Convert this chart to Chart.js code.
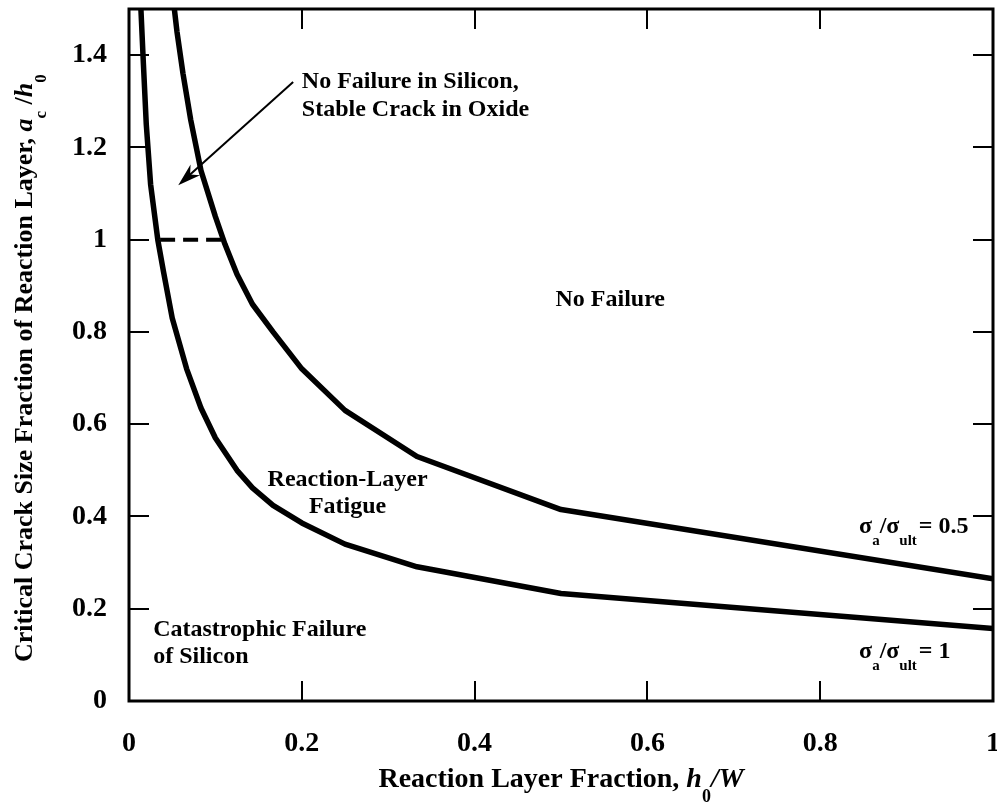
<!DOCTYPE html>
<html>
<head>
<meta charset="utf-8">
<script src="https://cdn.jsdelivr.net/npm/chart.js@4.4.0/dist/chart.umd.min.js"></script>
<style>
  html, body { margin: 0; padding: 0; background: #fff; }
  canvas { display: block; }
</style>
</head>
<body>
<canvas id="chart" width="997" height="812"></canvas>
<script>
// sigma_a / sigma_ult = 1
const lowX = [1, 0.5, 0.3333, 0.25, 0.2, 0.1667, 0.1429, 0.125, 0.1, 0.0833, 0.0667, 0.05, 0.04, 0.0333, 0.025, 0.02, 0.0167, 0.0133];
const lowY = [0.157, 0.233, 0.291, 0.340, 0.386, 0.424, 0.462, 0.50, 0.57, 0.635, 0.72, 0.83, 0.93, 1.00, 1.12, 1.25, 1.38, 1.52];

// sigma_a / sigma_ult = 0.5
const highX = [1, 0.5, 0.3333, 0.25, 0.2, 0.1667, 0.1429, 0.125, 0.1111, 0.1, 0.0833, 0.0714, 0.0625, 0.0556, 0.05];
const highY = [0.265, 0.415, 0.53, 0.63, 0.72, 0.80, 0.86, 0.925, 0.99, 1.05, 1.15, 1.26, 1.36, 1.45, 1.54];

// dashed boundary between the two curves at a_c/h_0 = 1
const dashX = [0.036, 0.107];
const dashY = [1, 1];

const xTicks = [0, 0.2, 0.4, 0.6, 0.8, 1];
const xTickLabels = ['0', '0.2', '0.4', '0.6', '0.8', '1'];
const yTicks = [0, 0.2, 0.4, 0.6, 0.8, 1, 1.2, 1.4];
const yTickLabels = ['0', '0.2', '0.4', '0.6', '0.8', '1', '1.2', '1.4'];

const SERIF = '"Liberation Serif", "Times New Roman", serif';

function toPoints(xs, ys) {
    return xs.map((x, i) => ({ x: x, y: ys[i] }));
}

// bold serif text with italic / subscript pieces
function fontOf(p, size) {
    const s = p.sub ? Math.round(size * 0.64) : size;
    return (p.it ? 'italic ' : '') + 'bold ' + s + 'px ' + SERIF;
}
function richWidth(ctx, parts, size) {
    let w = 0;
    parts.forEach(p => { ctx.font = fontOf(p, size); w += ctx.measureText(p.t).width; });
    return w;
}
function drawRich(ctx, parts, x, y, size, align) {
    let cx = align === 'center' ? x - richWidth(ctx, parts, size) / 2 : x;
    ctx.textAlign = 'left';
    ctx.textBaseline = 'alphabetic';
    parts.forEach(p => {
        ctx.font = fontOf(p, size);
        ctx.fillText(p.t, cx, p.sub ? y + size * 0.52 : y);
        cx += ctx.measureText(p.t).width;
    });
}

// region labels, positioned in data units
const notes = [
    { x: 0.2, y: 1.329, align: 'left', parts: [{ t: 'No Failure in Silicon,' }] },
    { x: 0.2, y: 1.268, align: 'left', parts: [{ t: 'Stable Crack in Oxide' }] },
    { x: 0.557, y: 0.856, align: 'center', parts: [{ t: 'No Failure' }] },
    { x: 0.253, y: 0.465, align: 'center', parts: [{ t: 'Reaction-Layer' }] },
    { x: 0.253, y: 0.408, align: 'center', parts: [{ t: 'Fatigue' }] },
    { x: 0.028, y: 0.14, align: 'left', parts: [{ t: 'Catastrophic Failure' }] },
    { x: 0.028, y: 0.083, align: 'left', parts: [{ t: 'of Silicon' }] },
    { x: 0.845, y: 0.365, align: 'left', parts: [{ t: 'σ' }, { t: 'a', sub: true }, { t: '/σ' }, { t: 'ult', sub: true }, { t: '\u200A= 0.5' }] },
    { x: 0.845, y: 0.094, align: 'left', parts: [{ t: 'σ' }, { t: 'a', sub: true }, { t: '/σ' }, { t: 'ult', sub: true }, { t: '\u200A= 1' }] }
];

// arrow pointing into the narrow region
const arrowFrom = { x: 0.19, y: 1.342 };
const arrowTo = { x: 0.057, y: 1.118 };

const xTitle = [{ t: 'Reaction Layer Fraction, ' }, { t: 'h', it: true }, { t: '0', sub: true }, { t: '/W', it: true }];
const yTitle = [{ t: 'Critical Crack Size Fraction of Reaction Layer, ' }, { t: 'a', it: true }, { t: 'c', sub: true }, { t: ' /' }, { t: 'h', it: true }, { t: '0', sub: true }];

const framePlugin = {
    id: 'frame',
    afterDatasetsDraw(chart) {
        const ctx = chart.ctx;
        const a = chart.chartArea;
        const xs = chart.scales.x;
        const ys = chart.scales.y;
        ctx.save();
        ctx.strokeStyle = '#000';
        ctx.fillStyle = '#000';

        // inward ticks on all four sides
        ctx.lineWidth = 2;
        ctx.beginPath();
        xTicks.forEach(v => {
            const px = Math.round(xs.getPixelForValue(v));
            ctx.moveTo(px, a.bottom); ctx.lineTo(px, a.bottom - 20);
            ctx.moveTo(px, a.top); ctx.lineTo(px, a.top + 20);
        });
        yTicks.forEach(v => {
            const py = Math.round(ys.getPixelForValue(v));
            ctx.moveTo(a.left, py); ctx.lineTo(a.left + 20, py);
            ctx.moveTo(a.right, py); ctx.lineTo(a.right - 20, py);
        });
        ctx.stroke();

        ctx.lineWidth = 3;
        ctx.strokeRect(a.left, a.top, a.right - a.left, a.bottom - a.top);

        // arrow
        const x0 = xs.getPixelForValue(arrowFrom.x), y0 = ys.getPixelForValue(arrowFrom.y);
        const x1 = xs.getPixelForValue(arrowTo.x), y1 = ys.getPixelForValue(arrowTo.y);
        const ang = Math.atan2(y1 - y0, x1 - x0);
        ctx.lineWidth = 2;
        ctx.beginPath();
        ctx.moveTo(x0, y0);
        ctx.lineTo(x1 - 10 * Math.cos(ang), y1 - 10 * Math.sin(ang));
        ctx.stroke();
        ctx.beginPath();
        ctx.moveTo(x1, y1);
        ctx.lineTo(x1 - 24 * Math.cos(ang - 0.3), y1 - 24 * Math.sin(ang - 0.3));
        ctx.lineTo(x1 - 16 * Math.cos(ang), y1 - 16 * Math.sin(ang));
        ctx.lineTo(x1 - 24 * Math.cos(ang + 0.3), y1 - 24 * Math.sin(ang + 0.3));
        ctx.closePath();
        ctx.fill();

        // labels inside the plot
        notes.forEach(n => {
            drawRich(ctx, n.parts, xs.getPixelForValue(n.x), ys.getPixelForValue(n.y), 24, n.align);
        });

        // axis titles
        drawRich(ctx, xTitle, (a.left + a.right) / 2, 787, 28, 'center');
        ctx.translate(32, 662);
        ctx.rotate(-Math.PI / 2);
        drawRich(ctx, yTitle, 0, 0, 26, 'left');
        ctx.restore();
    }
};

const lineStyle = {
    showLine: true,
    borderColor: '#000',
    borderWidth: 5.5,
    pointRadius: 0,
    tension: 0,
    clip: 0,
    borderJoinStyle: 'round'
};

new Chart(document.getElementById('chart'), {
    type: 'scatter',
    data: {
        datasets: [
            Object.assign({ label: 'σa/σult = 1', data: toPoints(lowX, lowY) }, lineStyle),
            Object.assign({ label: 'σa/σult = 0.5', data: toPoints(highX, highY) }, lineStyle),
            Object.assign({ label: 'boundary', data: toPoints(dashX, dashY) }, lineStyle, { borderWidth: 4, borderDash: [15, 8], borderCapStyle: 'butt' })
        ]
    },
    options: {
        responsive: false,
        animation: false,
        devicePixelRatio: 1,
        layout: { padding: { top: 9, right: 4, left: 0, bottom: 0 } },
        plugins: {
            legend: { display: false },
            tooltip: { enabled: false }
        },
        scales: {
            x: {
                type: 'linear',
                min: 0,
                max: 1,
                grid: { display: false, drawTicks: false },
                border: { display: false },
                afterBuildTicks: s => { s.ticks = xTicks.map(v => ({ value: v })); },
                afterFit: s => { s.height = 111; s.paddingLeft = 0; s.paddingRight = 0; },
                ticks: {
                    padding: 26,
                    color: '#000',
                    maxRotation: 0,
                    font: { family: SERIF, size: 28, weight: 'bold' },
                    callback: v => xTickLabels[xTicks.indexOf(v)]
                }
            },
            y: {
                type: 'linear',
                min: 0,
                max: 1.5,
                grid: { display: false, drawTicks: false },
                border: { display: false },
                afterBuildTicks: s => { s.ticks = yTicks.map(v => ({ value: v })); },
                afterFit: s => { s.width = 129; s.paddingTop = 0; s.paddingBottom = 0; },
                ticks: {
                    padding: 22,
                    color: '#000',
                    font: { family: SERIF, size: 28, weight: 'bold' },
                    callback: v => yTickLabels[yTicks.indexOf(v)]
                }
            }
        }
    },
    plugins: [framePlugin]
});
</script>
</body>
</html>
